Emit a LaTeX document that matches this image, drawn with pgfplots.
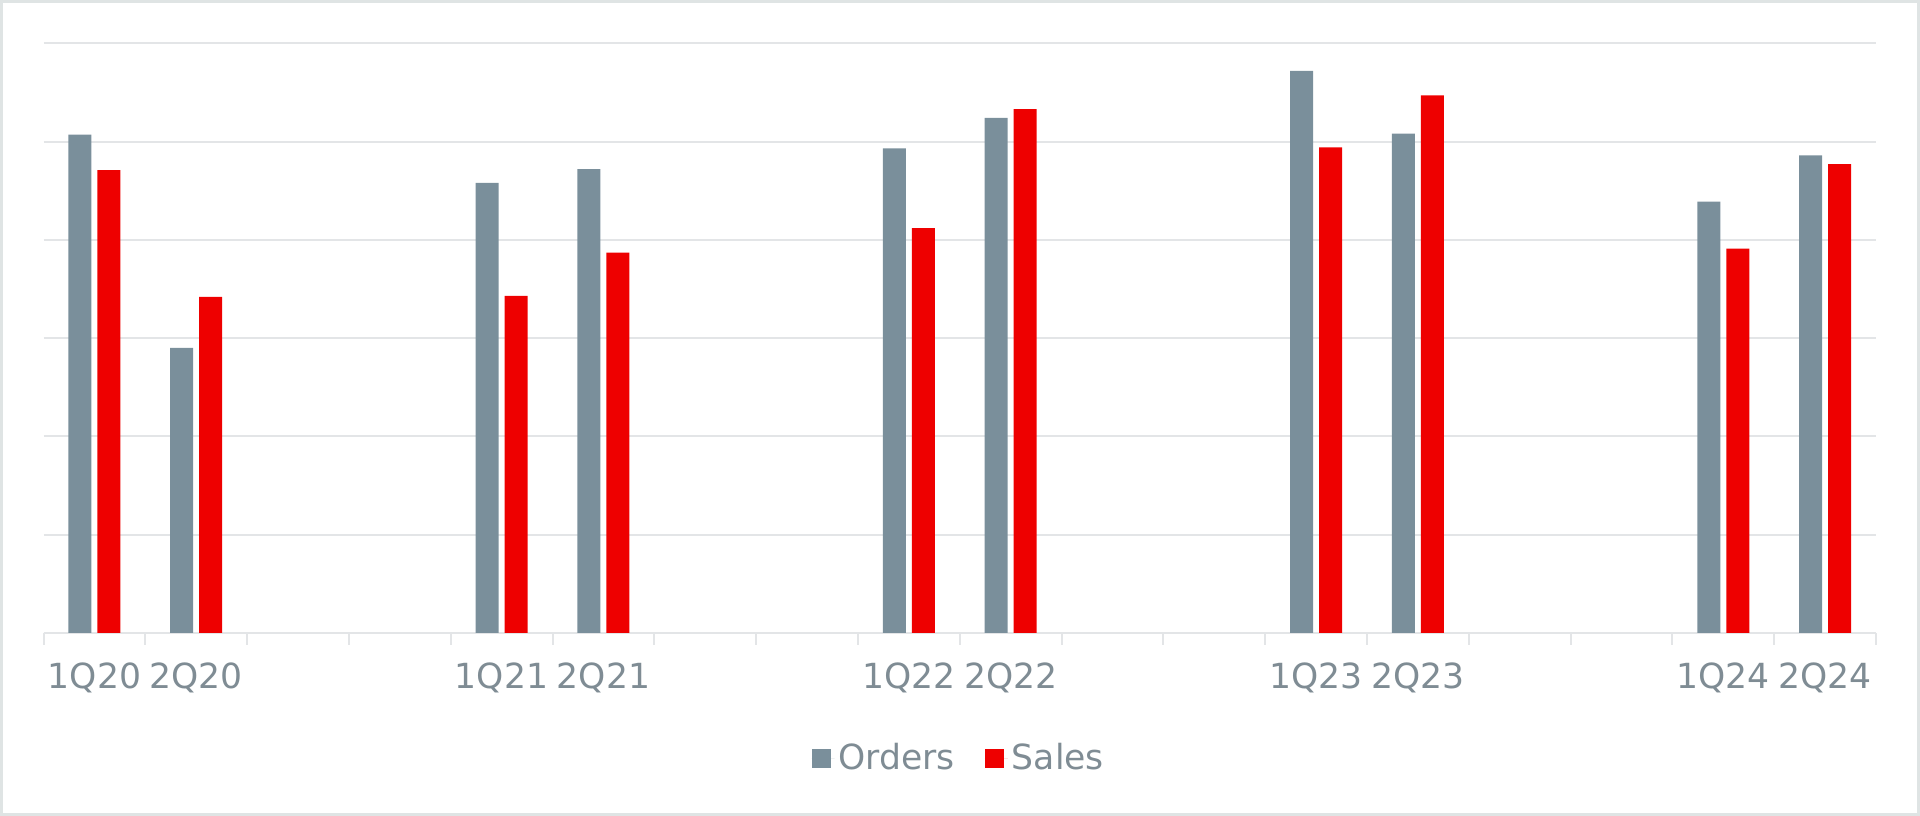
\documentclass[border=0pt]{standalone}
\usepackage{pgfplots}
\pgfplotsset{compat=1.18}
\usepackage{fontspec}
\setmainfont{DejaVu Sans}
\definecolor{ordc}{HTML}{7A8F9B}
\definecolor{salc}{HTML}{EE0000}
\definecolor{txtc}{HTML}{7F8C94}
\definecolor{gridc}{HTML}{E3E5E7}
\definecolor{framec}{HTML}{DFE4E4}

\begin{document}
\begin{tikzpicture}
\useasboundingbox (0,0) rectangle (960bp,408bp);
\draw[framec, line width=1.5bp] (0.75bp,0.75bp) rectangle (959.25bp,407.25bp);
\begin{axis}[
  at={(21.75bp,91.5bp)}, anchor=south west,
  scale only axis, width=916.25bp, height=294.85bp,
  xmin=-0.5, xmax=17.5, ymin=0, ymax=6,
  ybar=3bp, bar width=11.5bp,
  axis x line*=bottom, axis y line*=left,
  y axis line style={draw=none},
  x axis line style={gridc, line width=1bp},
  ytick={0,1,...,6}, yticklabels={},
  ymajorgrids, grid style={gridc, line width=1bp},
  major tick length=0pt,
  xtick={0,1,4,5,8,9,12,13,16,17},
  xticklabels={1Q20,2Q20,1Q21,2Q21,1Q22,2Q22,1Q23,2Q23,1Q24,2Q24},
  minor xtick={-0.5,0.5,...,17.5},
  minor tick length=6bp, tick align=outside,
  minor tick style={gridc, line width=1bp},
  xticklabel style={font=\fontsize{17.3bp}{21bp}\selectfont, text=txtc, yshift=-11.5bp},
  legend columns=2,
  legend style={at={(0.5,-0.212)}, anchor=center, draw=none, fill=none,
    font=\fontsize{17.3bp}{21bp}\selectfont, text=txtc,
    /tikz/every even column/.append style={column sep=13bp}},
  legend image code/.code={\fill[#1] (0bp,-4.75bp) rectangle (9.5bp,4.75bp);
    \path (0bp,0bp) -- (11.5bp,0bp);},
]
\addplot[fill=ordc, draw=none] coordinates {
  (0,5.07) (1,2.90) (4,4.58) (5,4.72) (8,4.93) (9,5.24) (12,5.72) (13,5.08) (16,4.39) (17,4.86)};
\addplot[fill=salc, draw=none] coordinates {
  (0,4.71) (1,3.42) (4,3.43) (5,3.87) (8,4.12) (9,5.33) (12,4.94) (13,5.47) (16,3.91) (17,4.77)};
\legend{Orders,Sales}
\end{axis}
\end{tikzpicture}
\end{document}
